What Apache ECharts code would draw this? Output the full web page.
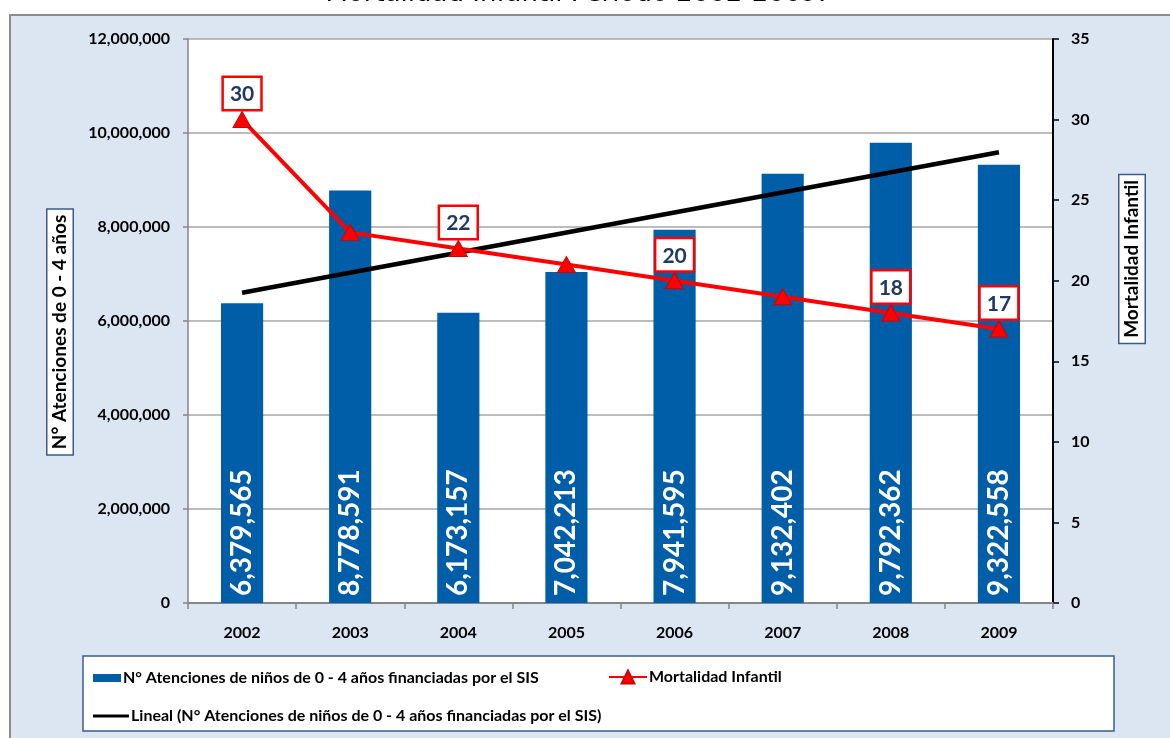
<!DOCTYPE html>
<html>
<head>
<meta charset="utf-8">
<script src="https://cdn.jsdelivr.net/npm/echarts@6/dist/echarts.min.js"></script>
<style>html,body{margin:0;padding:0;background:#fff}#c{width:1170px;height:738px}</style>
</head>
<body>
<div id="c"></div>
<script>
const anios = ['2002','2003','2004','2005','2006','2007','2008','2009'];
const atenciones = [6379565, 8778591, 6173157, 7042213, 7941595, 9132402, 9792362, 9322558];
const mortalidad = [30, 23, 22, 21, 20, 19, 18, 17];
const mortalidadEtiquetada = [true, false, true, false, true, false, true, true];
const tendencia = [6600000, null, null, null, null, null, null, 9590000];
const ejeIzqMax = 12000000, ejeIzqIntervalo = 2000000;
const ejeDerMax = 35, ejeDerIntervalo = 5;

const nombreBarras = 'N° Atenciones de niños de 0 - 4 años financiadas por el SIS';
const nombreMort = 'Mortalidad Infantil';
const nombreTend = 'Lineal (N° Atenciones de niños de 0 - 4 años financiadas por el SIS)';

const FONT = 'Lato, "Open Sans", sans-serif';
const chart = echarts.init(document.getElementById('c'));

const legendText = {fontFamily: FONT, fontWeight: 'bold', fontSize: 16, color: '#000', padding: [0, 0, 0, -3]};

chart.setOption({
  animation: false,
  backgroundColor: '#fff',
  graphic: [
    {type: 'rect', z: -100, shape: {x: 10, y: 15, width: 1170, height: 740},
     style: {fill: '#DCE6F2', stroke: '#8C8C8C', lineWidth: 2}},
    {type: 'rect', z: -50, shape: {x: 83, y: 656, width: 1031, height: 75},
     style: {fill: '#fff', stroke: '#385D8A', lineWidth: 1.5}},
    {type: 'text', z: 100, x: 576, y: -6,
     style: {text: 'Mortalidad Infantil Periodo 2002-2009:', font: '26px "DejaVu Sans", sans-serif',
             fill: '#000', align: 'center', verticalAlign: 'middle'}},
    {type: 'text', z: 100, x: 60, y: 332, rotation: Math.PI / 2,
     style: {text: 'N° Atenciones de 0 - 4 años', font: 'bold 19px ' + FONT, fill: '#000',
             align: 'center', verticalAlign: 'middle', backgroundColor: '#fff',
             borderColor: '#385D8A', borderWidth: 1.5, padding: [3, 5, 3, 5]}},
    {type: 'text', z: 100, x: 1132, y: 259, rotation: Math.PI / 2,
     style: {text: 'Mortalidad Infantil', font: 'bold 19px ' + FONT, fill: '#000',
             align: 'center', verticalAlign: 'middle', backgroundColor: '#fff',
             borderColor: '#385D8A', borderWidth: 1.5, padding: [3, 5, 3, 5]}}
  ],
  legend: [
    {left: 88, top: 665, itemWidth: 28, itemHeight: 8, data: [{name: nombreBarras, icon: 'rect'}],
     textStyle: legendText},
    {left: 603, top: 664, itemWidth: 38, itemHeight: 16, data: [nombreMort], textStyle: legendText},
    {left: 88, top: 703, itemWidth: 36, itemHeight: 3, data: [{name: nombreTend, icon: 'rect'}],
     textStyle: legendText}
  ],
  grid: {left: 188, right: 117, top: 39, bottom: 135, show: true, backgroundColor: '#fff', borderWidth: 0},
  xAxis: {
    type: 'category', data: anios, boundaryGap: true,
    axisLine: {lineStyle: {color: '#868686', width: 2}},
    axisTick: {show: true, length: 6, alignWithLabel: false, lineStyle: {color: '#868686', width: 1.5}},
    axisLabel: {fontFamily: FONT, fontWeight: 'bold', fontSize: 16, color: '#000', margin: 22}
  },
  yAxis: [
    {type: 'value', min: 0, max: ejeIzqMax, interval: ejeIzqIntervalo, position: 'left',
     axisLine: {show: true, lineStyle: {color: '#868686', width: 1.5}},
     axisTick: {show: true, length: 5, lineStyle: {color: '#868686', width: 1.5}},
     splitLine: {show: true, lineStyle: {color: '#A6A6A6', width: 1.5}},
     axisLabel: {fontFamily: FONT, fontWeight: 'bold', fontSize: 16, color: '#000', margin: 18,
                 formatter: v => v.toLocaleString('en-US')}},
    {type: 'value', min: 0, max: ejeDerMax, interval: ejeDerIntervalo, position: 'right',
     axisLine: {show: true, lineStyle: {color: '#000', width: 2}},
     axisTick: {show: true, length: 6, lineStyle: {color: '#000', width: 1.5}},
     splitLine: {show: false},
     axisLabel: {fontFamily: FONT, fontWeight: 'bold', fontSize: 16, color: '#000', margin: 18}}
  ],
  series: [
    {name: nombreBarras, type: 'bar', yAxisIndex: 0, data: atenciones, barWidth: '39%',
     itemStyle: {color: '#005EA8'},
     label: {show: true, position: 'insideBottom', rotate: 90, align: 'left', verticalAlign: 'middle',
             distance: 7, color: '#fff', fontFamily: FONT, fontWeight: 'bold', fontSize: 28,
             formatter: p => p.value.toLocaleString('en-US')}},
    {name: nombreTend, type: 'line', yAxisIndex: 0, data: tendencia, connectNulls: true,
     symbol: 'none', lineStyle: {color: '#000', width: 4.5}, itemStyle: {color: '#000'}},
    {name: nombreMort, type: 'line', yAxisIndex: 1,
     data: mortalidad.map((v, i) => ({value: v, label: {show: mortalidadEtiquetada[i]}})),
     symbol: 'triangle', symbolSize: [18, 16],
     lineStyle: {color: '#FF0000', width: 4},
     itemStyle: {color: '#FF0000', borderColor: '#D00000', borderWidth: 1},
     label: {position: 'top', distance: 2, color: '#1F3864', fontFamily: FONT, fontWeight: 'bold',
             fontSize: 21, backgroundColor: '#fff', borderColor: '#FF0000', borderWidth: 2.5,
             padding: [6, 6, 4, 6]}}
  ]
});
</script>
</body>
</html>
